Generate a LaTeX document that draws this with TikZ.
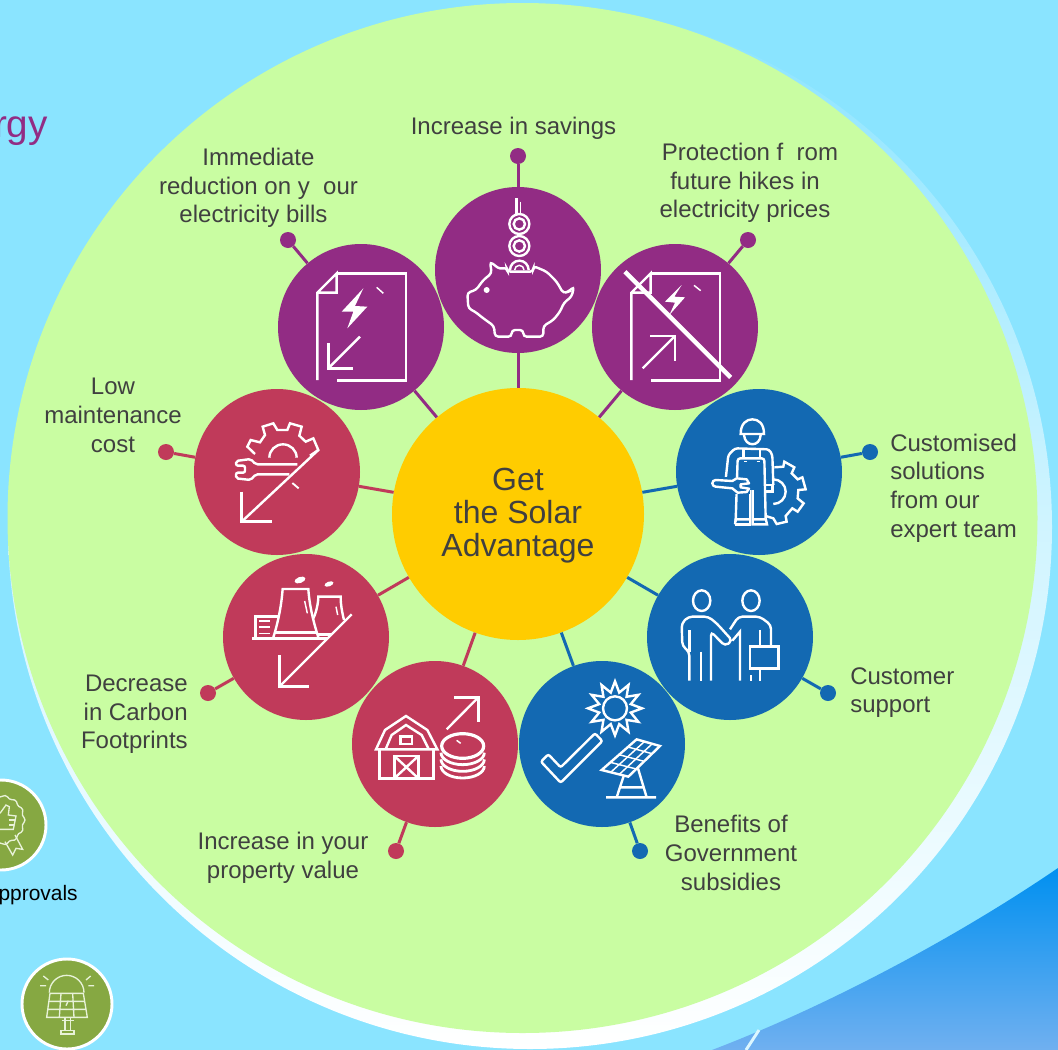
\documentclass[tikz,border=0pt]{standalone}
\usepackage{fontspec}
\setmainfont{Liberation Sans}
\definecolor{skybg}{HTML}{8AE4FF}
\definecolor{lime}{HTML}{C9FDA2}
\definecolor{purp}{HTML}{922C84}
\definecolor{crim}{HTML}{C03A5A}
\definecolor{blu}{HTML}{1369B2}
\definecolor{sun}{HTML}{FFCC00}
\definecolor{tx}{HTML}{404040}
\definecolor{oliv}{HTML}{86A842}
\definecolor{pale}{HTML}{E8F2D8}
\tikzset{
 zoomfrom/.style 2 args={shift={(#1,#2)},x=.25pt,y=-.25pt},
 ico/.style={draw=white,line width=1.8pt,line join=miter,fill=none},
 thin ico/.style={draw=white,line width=1.1pt},
 sat/.style={circle,minimum size=124.5pt,inner sep=0pt,fill=#1},
 hubn/.style={circle,minimum size=189pt,inner sep=0pt,fill=sun,text=tx,align=center,font=\fontsize{24}{24.7}\selectfont},
 dotn/.style={circle,minimum size=12pt,inner sep=0pt,fill=#1},
 spoke/.style={draw=#1,line width=2.25pt},
 lab/.style={text=tx,font=\fontsize{18}{21.5}\selectfont,inner sep=0pt,align=center},
 badge/.style={circle,minimum size=67.5pt,inner sep=0pt,fill=oliv,draw=white,line width=2.2pt},
 pl/.style={draw=pale,line width=1pt,fill=none},
}
\begin{document}
\begin{tikzpicture}[x=.75pt,y=-.75pt]
\useasboundingbox (0,0) rectangle (1058,1050);
\path[clip] (0,0) rectangle (1058,1050);
% background
\fill[skybg] (0,0) rectangle (1058,1050);
\shade[top color={rgb,255:red,0;green,144;blue,240},bottom color={rgb,255:red,112;green,176;blue,240}] (712,1050) .. controls (830,1005) and (960,935) .. (1058,868) -- (1058,1050) -- cycle;
\draw[white!70!skybg,line width=2.2pt] (759,1030) -- (746,1050);
\shade[top color=skybg,bottom color=white,middle color=skybg!40!white] (530,527) circle (522);
\fill[lime] (522.5,518) circle (515);
% cut-off texts and badges
\node[text=purp,font=\fontsize{29}{32}\selectfont,anchor=east,inner sep=0pt] (energyword) at (48,131) {rgy};
\node[text=black,font=\fontsize{15.7}{18}\selectfont,anchor=east,inner sep=0pt] (apprword) at (78,895) {pprovals};
\node[badge] (badgeA) at (1,825) {};
\node[badge] (badgeB) at (67,1004) {};
\begin{scope}[zoomfrom={0}{770}]
 \draw[pl] plot[smooth cycle,domain=0:354,samples=60] ({72*cos(\x)+3*cos(14*\x)*cos(\x)},{150+72*sin(\x)+3*cos(14*\x)*sin(\x)});
 \draw[pl] (0,130) -- (18,105) -- (28,110) -- (25,135) -- (48,138) -- (40,178) -- (0,178);
 \draw[pl] (28,150) -- (46,150) (28,165) -- (43,165);
 \draw[pl] (15,215) -- (38,255) -- (48,235) -- (68,238) -- (45,195);
 \draw[pl] (148,668) arc[start angle=180,end angle=360,radius=52];
 \draw[pl] (150,670) -- (250,670) -- (262,742) -- (140,742) -- cycle;
 \draw[pl] (146,694) -- (254,694) (143,718) -- (258,718) (183,670) -- (178,742) (218,670) -- (222,742);
 \draw[pl] (195,742) -- (195,783) (212,742) -- (212,783) (185,752) -- (222,752);
 \draw[pl] (183,782) rectangle (222,792);
 \draw[pl] (130,618) -- (145,630) (272,618) -- (258,630) (120,647) -- (138,647) (282,647) -- (265,647) (198,707) -- (205,692);
\end{scope}
% nodes
\node[hubn] (hub) at (518,514) {};
\node[text=tx,align=center,font=\fontsize{24}{24.7}\selectfont,inner sep=0pt] (hubtext) at (518,516) {Get\\the Solar\\Advantage};
\node[sat=purp] (s1) at (518,270) {};
\node[sat=purp] (s2) at (675,327) {};
\node[sat=blu] (s3) at (759,472) {};
\node[sat=blu] (s4) at (730,637) {};
\node[sat=blu] (s5) at (602,744) {};
\node[sat=crim] (s6) at (435,744) {};
\node[sat=crim] (s7) at (306,637) {};
\node[sat=crim] (s8) at (277,472) {};
\node[sat=purp] (s9) at (361,327) {};
\node[dotn=purp] (d1) at (518,156) {};
\node[dotn=purp] (d2) at (748,240) {};
\node[dotn=blu] (d3) at (870,452) {};
\node[dotn=blu] (d4) at (828,693) {};
\node[dotn=blu] (d5) at (640,851) {};
\node[dotn=crim] (d6) at (396,851) {};
\node[dotn=crim] (d7) at (208,693) {};
\node[dotn=crim] (d8) at (166,452) {};
\node[dotn=purp] (d9) at (288,240) {};
% connectors
\foreach \i/\c in {1/purp,2/purp,3/blu,4/blu,5/blu,6/crim,7/crim,8/crim,9/purp}{
 \draw[spoke=\c] (hub) -- (s\i);
 \draw[spoke=\c] (s\i) -- (d\i);
}
% labels
\node[lab] (l1) at (513.5,128) {Increase in savings};
\node[lab] (l2) at (745,183) {\hspace*{7.5pt}Protection f\ \ rom\\future hikes in\\electricity prices};
\node[lab,align=left,anchor=west] (l3) at (890,488) {Customised\\solutions\\from our\\expert team};
\node[lab,align=left,anchor=west] (l4) at (850,692.5) {Customer\\support};
\node[lab] (l5) at (731,853) {Benefits of\\Government\\subsidies};
\node[lab] (l6) at (283,857.5) {Increase in your\\property value};
\node[lab,align=right,anchor=east] (l7) at (188,714.5) {Decrease\\in Carbon\\Footprints};
\node[lab] (l8) at (113,415.5) {Low\\maintenance\\cost};
\node[lab] (l9) at (258.5,188) {Immediate\\reduction on y\ \ our\\electricity bills\hspace*{7.5pt}};
% icons from zoom frame 1
\begin{scope}[zoomfrom={270}{180}]
 % bill, down
 \draw[ico] (200,280) -- (408,280) -- (408,602) -- (200,602);
 \draw[ico] (142,600) -- (142,338) -- (200,280) -- (200,338) -- (142,338);
 \fill[white] (280,325) -- (215,395) -- (250,395) -- (232,445) -- (292,380) -- (255,378) -- cycle;
 \draw[thin ico] (320,322) -- (340,340);
 \draw[ico] (270,470) -- (175,565);
 \draw[ico] (175,490) -- (175,565) -- (248,565);
 % piggy
 \draw[ico,rounded corners=2.5pt] (592,338) -- (618,330) -- (640,300) -- (665,280) -- (660,245) -- (690,268) -- (710,262) -- (712,275) -- (790,275) -- (790,258) -- (830,275) -- (860,305) -- (880,340) -- (895,335) -- (912,320) -- (905,350) -- (882,368) -- (870,395) -- (850,420) -- (820,438) -- (820,470) -- (760,470) -- (760,450) -- (725,450) -- (725,470) -- (675,470) -- (672,438) -- (640,415) -- (615,395) -- (595,385) -- cycle;
 \fill[white] (650,330) circle[radius=9];
 \draw[ico] (748,132) circle[radius=30] (748,132) circle[radius=17];
 \draw[ico] (748,198) circle[radius=30] (748,198) circle[radius=17];
 \draw[ico] (720,270) arc[start angle=180,end angle=360,radius=28];
 \draw[thin ico] (734,270) arc[start angle=180,end angle=360,radius=14];
 \draw[ico] (740,55) -- (740,105);
 \draw[thin ico] (752,65) -- (752,100);
 % bill, up, struck
 \draw[ico] (1142,280) -- (1350,280) -- (1350,602) -- (1142,602);
 \draw[ico] (1084,600) -- (1084,338) -- (1142,280) -- (1142,338) -- (1084,338);
 \fill[white] (1235,315) -- (1185,365) -- (1215,368) -- (1198,405) -- (1245,352) -- (1213,350) -- cycle;
 \draw[thin ico] (1272,316) -- (1292,332);
 \draw[ico] (1118,565) -- (1215,468);
 \draw[ico] (1140,468) -- (1215,468) -- (1215,542);
 \draw[draw=white,line width=3.3pt] (1065,275) -- (1382,592);
\end{scope}
% icons from zoom frame 2
\begin{scope}[zoomfrom={190}{385}]
 \draw[ico] (195,207) -- (172,185) -- (182,165) -- (210,172) -- (225,150) -- (218,125) -- (250,115) -- (262,135) -- (292,135) -- (300,115) -- (335,125) -- (328,152) -- (347,170) -- (370,160) -- (385,195) -- (360,212);
 \draw[ico] (238,218) arc[start angle=180,end angle=360,x radius=41,y radius=40];
 \draw[ico,rounded corners=1.5pt] (322,238) -- (197,238) -- (182,222) -- (138,228) -- (138,242) -- (165,242) -- (165,263) -- (138,263) -- (138,280) -- (182,285) -- (197,268) -- (298,268);
 \draw[ico] (385,195) -- (155,410);
 \draw[ico] (155,320) -- (155,410) -- (245,410);
 \draw[thin ico,line width=1.4pt] (307,294) -- (326,310);
 % power station
 \draw[ico] (485,688) -- (268,905);
 \draw[ico] (268,810) -- (268,905) -- (358,905);
 \draw[ico] (187,760) -- (415,760);
 \draw[ico] (250,757) .. controls (268,700) and (275,650) .. (278,612) -- (355,612) .. controls (358,660) and (370,710) .. (385,757);
 \draw[ico] (255,742) -- (382,742) (385,748) -- (425,748);
 \draw[ico] (370,700) .. controls (380,680) and (385,650) .. (385,635) -- (452,635) .. controls (452,660) and (456,680) .. (462,705);
 \draw[ico] (197,760) -- (197,695) -- (265,695);
 \draw[thin ico,dash pattern=on 8 off 6] (208,708) -- (245,708) (208,726) -- (245,726) (208,745) -- (245,745);
 \fill[white,rotate around={20:(330,585)}] (330,585) ellipse[x radius=17,y radius=9];
 \fill[white,rotate around={20:(417,597)}] (417,597) ellipse[x radius=14,y radius=7];
 \draw[thin ico] (344,648) -- (352,685) (438,665) -- (443,690);
\end{scope}
% icons from zoom frame 3
\begin{scope}[zoomfrom={350}{660}]
 \draw[ico] (88,268) -- (88,355) -- (250,355) -- (250,268);
 \draw[ico] (78,268) -- (105,210) -- (168,168) -- (232,210) -- (262,268) -- cycle;
 \draw[ico] (108,265) -- (125,225) -- (168,195) -- (215,225) -- (235,265);
 \draw[ico] (152,230) rectangle (186,252);
 \draw[ico] (133,288) rectangle (205,355);
 \draw[ico] (133,288) -- (205,355) (205,288) -- (133,355);
 \draw[ico] (290,208) -- (385,112);
 \draw[ico] (312,112) -- (385,112) -- (385,186);
 \draw[draw=white,line width=2.4pt] (338,258) ellipse[x radius=63,y radius=37];
 \foreach \dy in {20,40,60}{
  \draw[draw=white,line width=2.1pt] (273,{258+\dy}) arc[start angle=180,end angle=0,x radius=65,y radius=36];
 }
 \draw[thin ico] (320,241) -- (332,250);
 % check
 \draw[ico,rounded corners=1.5pt] (735,220) -- (757,243) -- (632,368) -- (573,305) -- (595,283) -- (632,322) -- cycle;
 % sun
 \draw[ico] (795,145) circle[radius=36];
 \begin{scope}[shift={(795,145)}]
  \draw[ico] (90:81) \foreach \i in {1,...,23}{ -- ({90+15*\i}:{65+16*cos(180*\i)}) } -- cycle;
 \end{scope}
 % panel
 \draw[ico] (755,330) -- (860,238) -- (930,258) -- (835,350) -- cycle;
 \draw[thin ico] (782,337) -- (883,245) (808,343) -- (907,251);
 \draw[thin ico] (781,307) -- (859,327) (807,284) -- (882,304) (834,261) -- (906,281);
 \draw[ico] (800,412) -- (822,345) (890,412) -- (864,325) (810,382) -- (878,382) (768,412) -- (918,412);
\end{scope}
% icons from zoom frame 4
\begin{scope}[zoomfrom={645}{390}]
 % gear
 \draw[ico] (388,232) -- (415,230) -- (418,215) -- (448,232) -- (440,250) -- (458,268) -- (472,262) -- (482,298) -- (460,300) -- (458,325) -- (476,340) -- (458,365) -- (442,355) -- (422,378) -- (425,395) -- (395,402) -- (385,385) -- (362,378);
 \draw[ico] (385,268) arc[start angle=-90,end angle=90,radius=37];
 % worker
 \draw[ico] (287,132) .. controls (287,100) and (305,88) .. (322,88) .. controls (340,88) and (357,100) .. (357,132) -- cycle;
 \draw[ico] (297,135) .. controls (300,172) and (345,172) .. (347,135);
 \draw[ico,rounded corners=2pt] (242,268) -- (250,195) -- (270,175) -- (372,178) -- (382,195) -- (385,285);
 \draw[ico] (295,175) -- (295,205) (345,175) -- (345,205);
 \draw[ico,rounded corners=2pt] (272,395) -- (278,205) -- (358,205) -- (362,385);
 \draw[ico] (270,403) -- (315,403) -- (315,300);
 \draw[ico] (323,300) -- (323,403) -- (366,403) -- (362,385);
 \draw[ico] (270,403) -- (272,388) -- (315,388) (323,388) -- (362,388);
 \draw[thin ico] (298,215) -- (306,215) (335,215) -- (345,215);
 \draw[ico] (362,285) -- (383,285) -- (383,305) -- (362,305);
 \fill[blu] (198,262) rectangle (315,312);
 \draw[ico,line join=round] (262,273) -- (212,270) arc[start angle=270,end angle=90,radius=10] -- (262,295) -- (278,308) -- (305,306) -- (312,296) -- (287,292) -- (287,283) -- (312,280) -- (305,268) -- (275,265) -- cycle;
 % people
 \draw[ico] (170,632) ellipse[x radius=26,y radius=31];
 \draw[ico] (318,632) ellipse[x radius=26,y radius=31];
 \draw[ico,rounded corners=3pt] (133,872) -- (133,785) -- (112,768) -- (110,700) -- (130,680) -- (190,680) -- (215,700) -- (262,752) -- (240,768) -- (198,725) -- (198,872);
 \draw[ico] (133,720) -- (133,785) (168,785) -- (168,872);
 \draw[ico,rounded corners=3pt] (255,718) -- (280,680) -- (345,680) -- (378,705) -- (378,770);
 \draw[ico] (262,752) -- (285,725) -- (285,872);
 \draw[ico] (345,720) -- (345,770);
 \draw[ico] (315,770) rectangle (400,835);
 \draw[ico] (345,835) -- (345,872) (318,855) -- (318,872);
\end{scope}
\end{tikzpicture}
\end{document}
